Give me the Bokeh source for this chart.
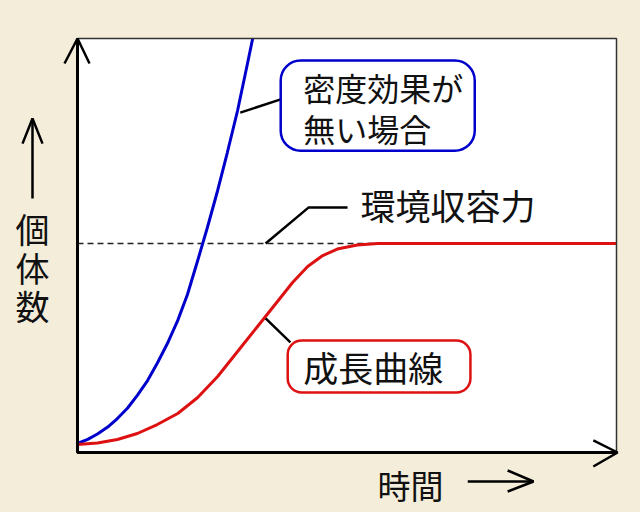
from bokeh.plotting import figure
from bokeh.models import Range1d
from bokeh.core.properties import value
from bokeh.embed import file_html
from bokeh.resources import INLINE

# ---- data (time in arbitrary units 0..10, population in % of axis height) ----
blue_t = [0, 0.19, 0.37, 0.56, 0.74, 0.93, 1.11, 1.30, 1.48, 1.67, 1.86, 2.04, 2.23, 2.41,
          2.60, 2.78, 2.97, 3.15, 3.25]
blue_n = [2.17, 3.16, 4.47, 6.14, 8.21, 10.75, 13.79, 17.37, 21.55, 26.38, 31.91, 38.16,
          46.38, 54.35, 63.29, 72.46, 82.61, 93.72, 100]

red_t = [0, 0.37, 0.74, 1.11, 1.48, 1.86, 2.23, 2.60, 2.97, 3.34, 3.71, 3.99, 4.27, 4.55,
         4.82, 5.19, 5.57, 10]
red_n = [1.93, 2.29, 3.14, 4.59, 6.76, 9.42, 13.29, 18.36, 24.40, 30.43, 36.47, 41.06,
         44.93, 47.58, 49.15, 50.12, 50.48, 50.48]

K = 50.48
K_end = 6.68

label_blue = ["密度効果が", "無い場合"]
label_k = "環境収容力"
label_red = "成長曲線"
ylabel_chars = ["個", "体", "数"]
xlabel = "時間"

BG = "#F3EDDA"
FONT = value("Noto Sans CJK JP")
BLUE = "#0000CC"
RED = "#DD1111"
INK = "#111111"

p = figure(width=640, height=512, output_backend="svg", toolbar_location=None,
           x_range=Range1d(-1.4286, 10.4453), y_range=Range1d(-14.493, 109.179),
           min_border=0)
p.axis.visible = False
p.grid.visible = False
p.outline_line_color = None
p.background_fill_color = BG
p.border_fill_color = BG

# plot area
p.quad(left=[0], right=[10], bottom=[0], top=[100], fill_color="white", line_color=None)

# carrying capacity dashed line
p.line([0, K_end], [K, K], line_color="#222222", line_width=1.5, line_dash="6 4")

# curves
p.line(blue_t, blue_n, line_color=BLUE, line_width=3)
p.line(red_t, red_n, line_color=RED, line_width=3)

# frame
p.line([0, 10, 10], [100, 100, 0], line_color="#333333", line_width=1.5)
p.line([0, 0, 10], [100, 0, 0], line_color="black", line_width=3)

# axis arrows
p.line([-0.241, 0, 0.223], [93.96, 100, 93.96], line_color="black", line_width=2.5)
p.line([9.57, 10.02, 9.57], [2.9, 0, -3.38], line_color="black", line_width=2.5)

# y label arrow
p.line([-0.835, -0.835], [61.35, 80.68], line_color="black", line_width=2.5)
p.line([-1.02, -0.835, -0.649], [74.6, 80.68, 74.6], line_color="black", line_width=2.5)
# x label arrow
p.line([7.24, 8.46], [-7.0, -7.0], line_color="black", line_width=2.5)
p.line([7.98, 8.46, 7.98], [-4.35, -7.0, -9.42], line_color="black", line_width=2.5)

# leaders
p.line([3.02, 3.77], [82.1, 85.3], line_color="black", line_width=2.5)
p.line([3.49, 4.29, 5.01], [50.48, 59.2, 59.2], line_color="black", line_width=2.5)
p.line([3.49, 3.95], [32.4, 26.6], line_color="black", line_width=2.5)

# boxes
p.quad(left=[3.77], right=[7.37], top=[94.7], bottom=[72.9], fill_color="white",
       line_color=BLUE, line_width=2.5, border_radius=20)
p.quad(left=[3.90], right=[7.29], top=[27.05], bottom=[14.49], fill_color="white",
       line_color=RED, line_width=2.5, border_radius=14)

# texts
p.text(x=[4.19, 4.19], y=[88.2, 78.5], text=label_blue, text_font=FONT,
       text_font_size="32px", text_align="left", text_baseline="middle", text_color=INK)
p.text(x=[5.25], y=[59.9], text=[label_k], text_font=FONT,
       text_font_size="35px", text_align="left", text_baseline="middle", text_color=INK)
p.text(x=[4.19], y=[20.8], text=[label_red], text_font=FONT,
       text_font_size="35px", text_align="left", text_baseline="middle", text_color=INK)
p.text(x=[-0.835] * 3, y=[54.0, 44.8, 35.6], text=ylabel_chars, text_font=FONT,
       text_font_size="34px", text_align="center", text_baseline="middle", text_color=INK)
p.text(x=[6.18], y=[-7.8], text=[xlabel], text_font=FONT,
       text_font_size="33px", text_align="center", text_baseline="middle", text_color=INK)

html = file_html(p, INLINE)
html = html.replace("</head>", "<style>body{background:%s;}</style></head>" % BG, 1)
open("out.html", "w").write(html)
